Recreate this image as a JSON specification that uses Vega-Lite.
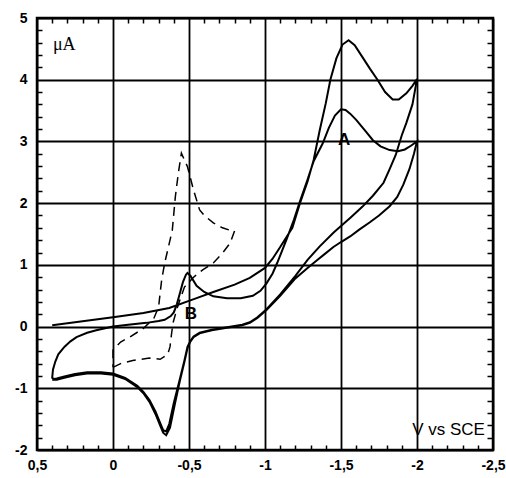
{
  "$schema": "https://vega.github.io/schema/vega-lite/v6.json",
  "width": 456,
  "height": 432,
  "autosize": "none",
  "padding": {"left": 37, "top": 18, "right": 13, "bottom": 28},
  "background": "white",
  "config": {
    "view": {"stroke": "black", "strokeWidth": 2.5},
    "axis": {"labelFont": "Liberation Sans", "labelFontSize": 14, "labelFontWeight": "bold", "labelColor": "black", "labelFlush": false, "labelOverlap": false, "labelBound": false, "domain": false, "title": null}
  },
  "datasets": {
    "solid": [
      {"v": 0.40, "i": 0.02}, {"v": 0.2, "i": 0.085}, {"v": 0.0, "i": 0.15}, {"v": -0.2, "i": 0.22}, {"v": -0.37, "i": 0.30},
      {"v": -0.55, "i": 0.46}, {"v": -0.66, "i": 0.56}, {"v": -0.8, "i": 0.68}, {"v": -0.9, "i": 0.79}, {"v": -1.0, "i": 0.95},
      {"v": -1.05, "i": 1.1}, {"v": -1.1, "i": 1.29}, {"v": -1.18, "i": 1.6}, {"v": -1.23, "i": 2.0}, {"v": -1.28, "i": 2.35},
      {"v": -1.32, "i": 2.7}, {"v": -1.36, "i": 3.18}, {"v": -1.40, "i": 3.62}, {"v": -1.43, "i": 4.0}, {"v": -1.47, "i": 4.35},
      {"v": -1.51, "i": 4.57}, {"v": -1.55, "i": 4.64}, {"v": -1.59, "i": 4.56}, {"v": -1.64, "i": 4.37}, {"v": -1.69, "i": 4.18},
      {"v": -1.74, "i": 4.0}, {"v": -1.79, "i": 3.8}, {"v": -1.84, "i": 3.68}, {"v": -1.88, "i": 3.68}, {"v": -1.93, "i": 3.78},
      {"v": -1.97, "i": 3.9}, {"v": -2.0, "i": 4.01},
      {"v": -1.97, "i": 3.6}, {"v": -1.93, "i": 3.3}, {"v": -1.90, "i": 3.1}, {"v": -1.86, "i": 2.78}, {"v": -1.82, "i": 2.55},
      {"v": -1.78, "i": 2.33}, {"v": -1.71, "i": 2.12}, {"v": -1.64, "i": 1.94}, {"v": -1.56, "i": 1.76}, {"v": -1.5, "i": 1.63},
      {"v": -1.45, "i": 1.52}, {"v": -1.36, "i": 1.30}, {"v": -1.28, "i": 1.08}, {"v": -1.2, "i": 0.82}, {"v": -1.1, "i": 0.52},
      {"v": -1.01, "i": 0.28}, {"v": -0.95, "i": 0.15}, {"v": -0.9, "i": 0.07}, {"v": -0.85, "i": 0.03}, {"v": -0.75, "i": -0.01},
      {"v": -0.65, "i": -0.05}, {"v": -0.57, "i": -0.10}, {"v": -0.53, "i": -0.16}, {"v": -0.51, "i": -0.23}, {"v": -0.49, "i": -0.33},
      {"v": -0.47, "i": -0.55}, {"v": -0.44, "i": -0.85}, {"v": -0.40, "i": -1.24}, {"v": -0.37, "i": -1.58}, {"v": -0.35, "i": -1.70},
      {"v": -0.33, "i": -1.68}, {"v": -0.31, "i": -1.56}, {"v": -0.28, "i": -1.38}, {"v": -0.24, "i": -1.19}, {"v": -0.2, "i": -1.06},
      {"v": -0.16, "i": -0.96}, {"v": -0.08, "i": -0.83}, {"v": 0.0, "i": -0.76}, {"v": 0.08, "i": -0.74}, {"v": 0.17, "i": -0.74},
      {"v": 0.25, "i": -0.77}, {"v": 0.32, "i": -0.81}, {"v": 0.37, "i": -0.84}, {"v": 0.39, "i": -0.85}, {"v": 0.40, "i": -0.83},
      {"v": 0.395, "i": -0.70}, {"v": 0.38, "i": -0.57}, {"v": 0.36, "i": -0.45}, {"v": 0.32, "i": -0.33}, {"v": 0.28, "i": -0.24},
      {"v": 0.24, "i": -0.17}, {"v": 0.17, "i": -0.10}, {"v": 0.11, "i": -0.06}, {"v": 0.0, "i": 0.0}, {"v": -0.1, "i": 0.03},
      {"v": -0.22, "i": 0.06}, {"v": -0.30, "i": 0.09}, {"v": -0.34, "i": 0.11}, {"v": -0.38, "i": 0.17}, {"v": -0.40, "i": 0.23},
      {"v": -0.42, "i": 0.36}, {"v": -0.44, "i": 0.54}, {"v": -0.46, "i": 0.72}, {"v": -0.48, "i": 0.84}, {"v": -0.49, "i": 0.87},
      {"v": -0.51, "i": 0.82}, {"v": -0.55, "i": 0.66}, {"v": -0.6, "i": 0.56}, {"v": -0.66, "i": 0.49}, {"v": -0.75, "i": 0.46},
      {"v": -0.84, "i": 0.46}, {"v": -0.92, "i": 0.50}, {"v": -0.97, "i": 0.58}, {"v": -1.01, "i": 0.70}, {"v": -1.05, "i": 0.86},
      {"v": -1.08, "i": 1.03}, {"v": -1.14, "i": 1.40}, {"v": -1.19, "i": 1.73}, {"v": -1.23, "i": 2.03}, {"v": -1.28, "i": 2.38},
      {"v": -1.32, "i": 2.68}, {"v": -1.38, "i": 2.97}, {"v": -1.42, "i": 3.22}, {"v": -1.46, "i": 3.42}, {"v": -1.5, "i": 3.52},
      {"v": -1.53, "i": 3.51}, {"v": -1.56, "i": 3.45}, {"v": -1.6, "i": 3.35}, {"v": -1.66, "i": 3.17}, {"v": -1.71, "i": 3.02},
      {"v": -1.76, "i": 2.92}, {"v": -1.82, "i": 2.86}, {"v": -1.875, "i": 2.84}, {"v": -1.92, "i": 2.87}, {"v": -1.96, "i": 2.93},
      {"v": -2.0, "i": 3.0},
      {"v": -1.98, "i": 2.8}, {"v": -1.95, "i": 2.55}, {"v": -1.91, "i": 2.3}, {"v": -1.87, "i": 2.1}, {"v": -1.82, "i": 1.95},
      {"v": -1.75, "i": 1.8}, {"v": -1.69, "i": 1.69}, {"v": -1.62, "i": 1.57}, {"v": -1.56, "i": 1.46}, {"v": -1.5, "i": 1.37},
      {"v": -1.45, "i": 1.29}, {"v": -1.39, "i": 1.17}, {"v": -1.34, "i": 1.07}, {"v": -1.28, "i": 0.95}, {"v": -1.2, "i": 0.78},
      {"v": -1.1, "i": 0.50}, {"v": -1.01, "i": 0.27}, {"v": -0.95, "i": 0.14}, {"v": -0.9, "i": 0.06}, {"v": -0.85, "i": 0.02},
      {"v": -0.75, "i": -0.02}, {"v": -0.65, "i": -0.06}, {"v": -0.57, "i": -0.11}, {"v": -0.53, "i": -0.17}, {"v": -0.51, "i": -0.24},
      {"v": -0.49, "i": -0.35}, {"v": -0.47, "i": -0.57}, {"v": -0.44, "i": -0.88}, {"v": -0.405, "i": -1.28}, {"v": -0.375, "i": -1.64},
      {"v": -0.35, "i": -1.76}, {"v": -0.33, "i": -1.72}, {"v": -0.31, "i": -1.6}, {"v": -0.28, "i": -1.42}, {"v": -0.24, "i": -1.22},
      {"v": -0.2, "i": -1.08}, {"v": -0.16, "i": -0.98}, {"v": -0.08, "i": -0.85}, {"v": 0.0, "i": -0.78}, {"v": 0.08, "i": -0.76},
      {"v": 0.17, "i": -0.76}, {"v": 0.25, "i": -0.79}, {"v": 0.32, "i": -0.83}, {"v": 0.37, "i": -0.86}, {"v": 0.40, "i": -0.86}
    ],
    "dashed": [
      {"v": 0.0, "i": -0.66}, {"v": -0.05, "i": -0.60}, {"v": -0.13, "i": -0.55}, {"v": -0.24, "i": -0.51}, {"v": -0.31, "i": -0.53},
      {"v": -0.36, "i": -0.45}, {"v": -0.375, "i": -0.33}, {"v": -0.385, "i": -0.12}, {"v": -0.395, "i": 0.06}, {"v": -0.42, "i": 0.28},
      {"v": -0.44, "i": 0.43}, {"v": -0.47, "i": 0.64}, {"v": -0.53, "i": 0.80}, {"v": -0.59, "i": 0.92}, {"v": -0.66, "i": 1.03},
      {"v": -0.72, "i": 1.19}, {"v": -0.77, "i": 1.35}, {"v": -0.80, "i": 1.55}, {"v": -0.77, "i": 1.56}, {"v": -0.72, "i": 1.60},
      {"v": -0.66, "i": 1.68}, {"v": -0.60, "i": 1.80}, {"v": -0.57, "i": 1.89}, {"v": -0.53, "i": 2.21}, {"v": -0.49, "i": 2.59},
      {"v": -0.45, "i": 2.81}, {"v": -0.43, "i": 2.49}, {"v": -0.41, "i": 2.1}, {"v": -0.39, "i": 1.56}, {"v": -0.36, "i": 1.24},
      {"v": -0.34, "i": 1.03}, {"v": -0.32, "i": 0.75}, {"v": -0.31, "i": 0.54}, {"v": -0.30, "i": 0.32}, {"v": -0.27, "i": 0.14},
      {"v": -0.20, "i": -0.03}, {"v": -0.11, "i": -0.17}, {"v": -0.05, "i": -0.25}, {"v": 0.0, "i": -0.38}, {"v": 0.0, "i": -0.66}
    ],
    "notes": [
      {"t": "V vs SCE", "k": "sans", "v": -2.447, "i": -1.76},
      {"t": "μA", "k": "serif", "v": 0.395, "i": 4.48},
      {"t": "A", "k": "bold", "v": -1.52, "i": 3.02},
      {"t": "B", "k": "bold", "v": -0.513, "i": 0.21}
    ]
  },
  "resolve": {"axis": {"x": "independent", "y": "independent"}},
  "layer": [
    {
      "data": {"name": "solid"},
      "mark": {"type": "line", "color": "black", "strokeWidth": 2},
      "encoding": {
        "x": {"field": "v", "type": "quantitative",
              "scale": {"domain": [-2.5, 0.5], "reverse": true, "nice": false, "zero": false},
              "axis": {"orient": "bottom", "values": [0.5, 0, -0.5, -1, -1.5, -2, -2.5], "grid": true, "gridColor": "black", "gridWidth": 1.8, "gridOpacity": 1, "ticks": false, "labelPadding": 8,
                       "labelExpr": "datum.value < 0 ? '-' + replace(toString(-datum.value), '.', ',') : replace(toString(datum.value), '.', ',')"}},
        "y": {"field": "i", "type": "quantitative",
              "scale": {"domain": [-2, 5], "nice": false, "zero": false},
              "axis": {"orient": "left", "values": [-2, -1, 0, 1, 2, 3, 4, 5], "grid": true, "gridColor": "black", "gridWidth": 1.8, "gridOpacity": 1, "ticks": false, "labelPadding": 10,
                       "labelExpr": "datum.value < 0 ? '-' + toString(-datum.value) : toString(datum.value)"}},
        "order": {"value": null}
      }
    },
    {
      "data": {"name": "dashed"},
      "mark": {"type": "line", "color": "black", "strokeWidth": 1.5, "strokeDash": [9, 6]},
      "encoding": {
        "x": {"field": "v", "type": "quantitative",
              "axis": {"orient": "bottom", "offset": -5, "values": [0.4, 0.3, 0.2, 0.1, -0.1, -0.2, -0.3, -0.4, -0.6, -0.7, -0.8, -0.9, -1.1, -1.2, -1.3, -1.4, -1.6, -1.7, -1.8, -1.9, -2.1, -2.2, -2.3, -2.4], "grid": false, "labels": false, "ticks": true, "tickSize": 5, "tickWidth": 1.5, "tickColor": "black"}},
        "y": {"field": "i", "type": "quantitative",
              "axis": {"orient": "left", "offset": -5, "values": [-1.8, -1.6, -1.4, -1.2, -0.8, -0.6, -0.4, -0.2, 0.2, 0.4, 0.6, 0.8, 1.2, 1.4, 1.6, 1.8, 2.2, 2.4, 2.6, 2.8, 3.2, 3.4, 3.6, 3.8, 4.2, 4.4, 4.6, 4.8], "grid": false, "labels": false, "ticks": true, "tickSize": 5, "tickWidth": 1.5, "tickColor": "black"}},
        "order": {"value": null}
      }
    },
    {
      "data": {"name": "notes"},
      "transform": [{"filter": "datum.k == 'sans'"}],
      "mark": {"type": "text", "font": "Liberation Sans", "fontSize": 17, "align": "right", "baseline": "alphabetic", "color": "black"},
      "encoding": {
        "x": {"field": "v", "type": "quantitative",
              "axis": {"orient": "top", "offset": -5, "values": [0.4, 0.3, 0.2, 0.1, -0.1, -0.2, -0.3, -0.4, -0.6, -0.7, -0.8, -0.9, -1.1, -1.2, -1.3, -1.4, -1.6, -1.7, -1.8, -1.9, -2.1, -2.2, -2.3, -2.4], "grid": false, "labels": false, "ticks": true, "tickSize": 5, "tickWidth": 1.5, "tickColor": "black"}},
        "y": {"field": "i", "type": "quantitative",
              "axis": {"orient": "right", "offset": -6, "values": [-1.8, -1.6, -1.4, -1.2, -0.8, -0.6, -0.4, -0.2, 0.2, 0.4, 0.6, 0.8, 1.2, 1.4, 1.6, 1.8, 2.2, 2.4, 2.6, 2.8, 3.2, 3.4, 3.6, 3.8, 4.2, 4.4, 4.6, 4.8], "grid": false, "labels": false, "ticks": true, "tickSize": 6, "tickWidth": 1.5, "tickColor": "black"}},
        "text": {"field": "t"}
      }
    },
    {
      "data": {"name": "notes"},
      "transform": [{"filter": "datum.k == 'serif'"}],
      "mark": {"type": "text", "font": "Liberation Serif", "fontSize": 18, "align": "left", "baseline": "alphabetic", "color": "black"},
      "encoding": {
        "x": {"field": "v", "type": "quantitative", "axis": null},
        "y": {"field": "i", "type": "quantitative", "axis": null},
        "text": {"field": "t"}
      }
    },
    {
      "data": {"name": "notes"},
      "transform": [{"filter": "datum.k == 'bold'"}],
      "mark": {"type": "text", "font": "Liberation Sans", "fontSize": 17, "fontWeight": "bold", "align": "center", "baseline": "middle", "color": "black"},
      "encoding": {
        "x": {"field": "v", "type": "quantitative", "axis": null},
        "y": {"field": "i", "type": "quantitative", "axis": null},
        "text": {"field": "t"}
      }
    }
  ]
}
